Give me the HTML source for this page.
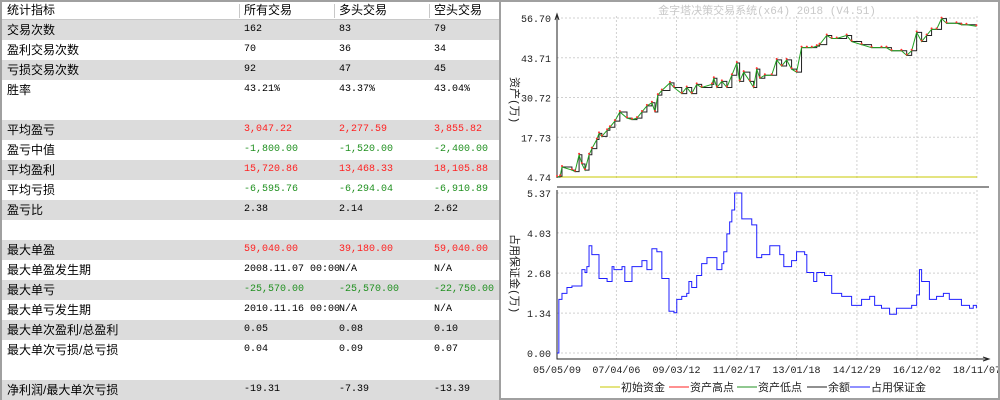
<!DOCTYPE html>
<html><head><meta charset="utf-8">
<style>
body{margin:0;width:1000px;height:400px;overflow:hidden;background:#fff;font-family:"Liberation Sans","Noto Sans CJK SC",sans-serif;}
#left{position:absolute;left:0;top:0;width:499px;height:400px;border-left:2px solid #a0a0a0;border-top:2px solid #a0a0a0;box-sizing:border-box;background:#fff;}
.row{position:absolute;left:0;width:497px;height:20px;font-size:12px;line-height:20px;}
.g{background:#dcdcdc;}
.c{position:absolute;top:0;white-space:nowrap;}
.c0{left:5px;}
.c1{left:242px;}.c2{left:337px;}.c3{left:432px;}
.n{font-family:"Liberation Mono",monospace;font-size:10px;}
.r{color:#ff2020;}.gr{color:#209020;}
#hdr{position:absolute;left:0;top:0;width:497px;height:17px;border-bottom:2px solid #c8c8c8;font-size:12px;line-height:17px;}
.sep{position:absolute;top:2px;width:1px;height:14px;background:#c8c8c8;}
#right{position:absolute;left:499px;top:0;width:501px;height:400px;border:2px solid #a0a0a0;box-sizing:border-box;}
</style></head><body>
<div id="left">
 <div id="hdr">
  <span class="c c0">统计指标</span>
  <span class="sep" style="left:237px"></span><span class="c c1">所有交易</span>
  <span class="sep" style="left:332px"></span><span class="c c2">多头交易</span>
  <span class="sep" style="left:427px"></span><span class="c c3">空头交易</span>
 </div>
 <div id="rows"></div>
</div>
<div id="right">
<svg id="chart" width="497" height="396" style="position:absolute;left:0;top:0" font-family="'Liberation Mono','Noto Sans CJK SC',monospace"></svg>
</div>
<script>
const rowsData=[
["交易次数","162","83","79","",1],
["盈利交易次数","70","36","34","",0],
["亏损交易次数","92","47","45","",1],
["胜率","43.21%","43.37%","43.04%","",0],
null,
["平均盈亏","3,047.22","2,277.59","3,855.82","r",1],
["盈亏中值","-1,800.00","-1,520.00","-2,400.00","gr",0],
["平均盈利","15,720.86","13,468.33","18,105.88","r",1],
["平均亏损","-6,595.76","-6,294.04","-6,910.89","gr",0],
["盈亏比","2.38","2.14","2.62","",1],
null,
["最大单盈","59,040.00","39,180.00","59,040.00","r",1],
["最大单盈发生期","2008.11.07 00:00","N/A","N/A","",0],
["最大单亏","-25,570.00","-25,570.00","-22,750.00","gr",1],
["最大单亏发生期","2010.11.16 00:00","N/A","N/A","",0],
["最大单次盈利/总盈利","0.05","0.08","0.10","",1],
["最大单次亏损/总亏损","0.04","0.09","0.07","",0],
null,
["净利润/最大单次亏损","-19.31","-7.39","-13.39","",1]];
const rc=document.getElementById('rows');
rowsData.forEach((r,i)=>{
 if(!r)return;
 const d=document.createElement('div');
 d.className='row'+(r[5]?' g':'');
 d.style.top=(18+20*i)+'px';
 
 
 d.innerHTML=`<span class="c c0">${r[0]}</span><span class="c c1 n ${r[4]}">${r[1]}</span><span class="c c2 n ${r[4]}">${r[2]}</span><span class="c c3 n ${r[4]}">${r[3]}</span>`;
 rc.appendChild(d);
});

// chart data
const eqYears=[2005.35,2005.45,2005.51,2005.83,2005.93,2006.06,2006.15,2006.25,2006.38,2006.47,2006.63,2006.70,2006.79,2006.96,2007.05,2007.21,2007.37,2007.60,2007.76,2007.92,2008.08,2008.24,2008.40,2008.50,2008.59,2008.72,2008.98,2009.11,2009.36,2009.52,2009.68,2009.84,2010.00,2010.33,2010.39,2010.49,2010.65,2010.81,2010.97,2011.13,2011.22,2011.35,2011.55,2011.67,2011.77,2011.87,2012.03,2012.25,2012.41,2012.57,2012.73,2012.89,2013.05,2013.21,2013.38,2013.54,2013.70,2013.79,2014.02,2014.18,2014.34,2014.66,2014.82,2015.14,2015.46,2015.78,2015.94,2016.10,2016.42,2016.59,2016.75,2016.91,2017.07,2017.23,2017.39,2017.55,2017.71,2017.87,2018.19,2018.35,2018.51,2018.83];
const eqValues=[4.74,5,8,7,6.5,12,9,7,12,14,17,19,18,20,21,23,26,24,23.5,24,26,28,29,26,31.5,33,35.5,34,32,34,32,35,34,35,37,34,36,34,38,42,36,39,36,34,40,37,38,38,43,41,43,40,39,47,47,47,47.5,48,51,50,50,51,49,48,47,47,47,46,46,44.5,46,52,49,51,53,53,56.5,55,55,54.5,54.5,54];
const mgYears=[2005.35,2005.41,2005.51,2005.67,2005.83,2006.09,2006.15,2006.25,2006.31,2006.38,2006.47,2006.67,2006.70,2006.96,2007.12,2007.18,2007.44,2007.53,2007.76,2008.08,2008.24,2008.40,2008.56,2008.72,2008.88,2008.95,2009.11,2009.20,2009.36,2009.52,2009.59,2009.68,2009.84,2010.00,2010.17,2010.39,2010.49,2010.65,2010.71,2010.81,2010.90,2010.97,2011.06,2011.19,2011.29,2011.45,2011.61,2011.77,2011.93,2012.19,2012.35,2012.51,2012.64,2012.73,2012.89,2013.05,2013.31,2013.38,2013.60,2013.70,2013.95,2014.18,2014.50,2014.82,2015.14,2015.40,2015.56,2015.78,2016.04,2016.26,2016.59,2016.75,2016.91,2017.00,2017.07,2017.13,2017.32,2017.55,2017.77,2017.96,2018.19,2018.35,2018.61,2018.73,2018.83];
const mgValues=[0,1.8,2.0,2.2,2.25,2.25,2.8,2.7,2.9,3.6,3.3,3.3,2.5,2.4,2.9,2.8,2.9,2.4,2.9,3.1,2.8,3.5,3.4,2.5,2.5,1.4,1.35,1.8,1.9,2.0,2.4,2.2,2.6,3.0,3.2,3.2,2.8,3.0,3.4,4.0,4.4,4.8,5.37,5.37,4.5,4.5,4.3,3.2,3.3,3.6,3.6,3.3,2.9,2.9,3.1,3.4,3.3,2.7,2.4,2.7,2.6,2.0,1.9,1.6,1.8,1.9,1.6,1.5,1.3,1.5,1.5,1.6,1.95,2.8,2.4,2.4,1.8,1.9,2.0,1.8,1.8,1.6,1.5,1.6,1.5];
const initialCapital=4.74;
const eqTicks=[4.74,17.73,30.72,43.71,56.70];
const mgTicks=[0.00,1.34,2.68,4.03,5.37];
const xTickYears=[2005.35,2007.26,2009.19,2011.13,2013.05,2014.99,2016.92,2018.85];
const xTickLabels=["05/05/09","07/04/06","09/03/12","11/02/17","13/01/18","14/12/29","16/12/02","18/11/07"];

const OX=499,L=555-OX,R=975-OX;
const xs=y=>L+(y-2005.35)/(2018.85-2005.35)*(R-L);
const ye=v=>175-(v-4.74)/(56.70-4.74)*159;
const ym=v=>351-v/5.37*160;
const svg=document.getElementById('chart');
const NS='http://www.w3.org/2000/svg';
function mk(t,a,parent){const e=document.createElementNS(NS,t);for(const k in a)e.setAttribute(k,a[k]);(parent||svg).appendChild(e);return e;}

let e;
e=mk('text',{x:266,y:12,'font-size':11,fill:'#c8c8c8','text-anchor':'middle'});e.textContent='金字塔决策交易系统(x64) 2018 (V4.51)';



xTickYears.forEach((y,i)=>{
 if(i>0){
 e=mk('line',{x1:xs(y),x2:xs(y),y1:14,y2:176,stroke:'#d0d0d0','stroke-dasharray':'2,2'});
 
 
 e=mk('line',{x1:xs(y),x2:xs(y),y1:188,y2:357,stroke:'#d0d0d0','stroke-dasharray':'2,2'});
 
 }
 e=mk('text',{x:xs(y),y:371,'font-size':10,fill:'#222','text-anchor':'middle'});e.textContent=xTickLabels[i];
 
 
});
eqTicks.forEach(v=>{
 e=mk('line',{x1:L,x2:R,y1:ye(v),y2:ye(v),stroke:'#d0d0d0','stroke-dasharray':'2,2'});
 
 
 e=mk('text',{x:L-6,y:ye(v)+4,'font-size':10,fill:'#222','text-anchor':'end'});e.textContent=v.toFixed(2);
 
 
});
mgTicks.forEach(v=>{
 e=mk('line',{x1:L,x2:R,y1:ym(v),y2:ym(v),stroke:'#d0d0d0','stroke-dasharray':'2,2'});
 
 
 e=mk('text',{x:L-6,y:ym(v)+4,'font-size':10,fill:'#222','text-anchor':'end'});e.textContent=v.toFixed(2);
 
 
});
e=mk('path',{d:`M${L} 176 V14 M${L-2} 18 L${L} 12 L${L+2} 18`,stroke:'#222',fill:'none'});


e=mk('line',{x1:L,x2:488,y1:185,y2:185,stroke:'#222'});


e=mk('path',{d:`M${L} 188 V357 H488 M482 355 L488 357 L482 359`,stroke:'#222',fill:'none'});



e=mk('line',{x1:L,x2:R,y1:ye(initialCapital),y2:ye(initialCapital),stroke:'#c8c800'});



const ptsEq=eqYears.map((y,i)=>[xs(y),ye(eqValues[i])]);
let step='';ptsEq.forEach((p,i)=>{step+=(i?` H${p[0]} V${p[1]}`:`M${p[0]} ${p[1]}`);});
e=mk('path',{d:step,stroke:'#222',fill:'none','stroke-width':1});


e=mk('polyline',{points:ptsEq.map(p=>p.join(',')).join(' '),stroke:'#20a020',fill:'none','stroke-width':1});


ptsEq.forEach(p=>{
 e=mk('circle',{cx:p[0],cy:p[1]-1,r:1,fill:'#ff3030'});
 
 
});
const ptsMg=mgYears.map((y,i)=>[xs(y),ym(mgValues[i])]);
let sm='';ptsMg.forEach((p,i)=>{sm+=(i?` H${p[0]} V${p[1]}`:`M${p[0]} ${p[1]}`);});
e=mk('path',{d:sm,stroke:'#2020ff',fill:'none','stroke-width':1});



e=mk('text',{x:0,y:0,'font-size':11,fill:'#222',transform:'translate(10,75) rotate(90)'});e.textContent='资产(万)';


e=mk('text',{x:0,y:0,'font-size':11,fill:'#222',transform:'translate(10,232) rotate(90)'});e.textContent='占用保证金(万)';



const legNames=["初始资金","资产高点","资产低点","余额","占用保证金"];
const legColors=["#c8c800","#ff2020","#209020","#222222","#2020ff"];
const legX=[99,168,236,306,349];
legNames.forEach((n,i)=>{
 const g=mk('g',{});
 
 
 mk('line',{x1:legX[i],x2:legX[i]+20,y1:385,y2:385,stroke:legColors[i]},g);
 const t=mk('text',{x:legX[i]+21,y:389,'font-size':11,fill:'#222'},g);t.textContent=n;
});
</script>
</body></html>
